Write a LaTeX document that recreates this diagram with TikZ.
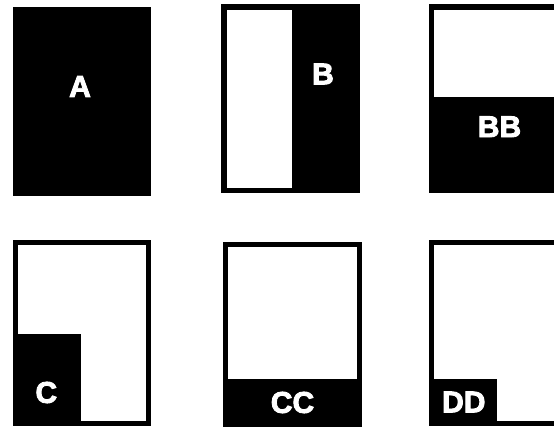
\documentclass[tikz,border=0pt]{standalone}
\usepackage{fontspec}
\setmainfont{Liberation Sans}
\newfontfamily\lblfont[BoldFeatures={FakeBold=3}]{Liberation Sans}
\usetikzlibrary{positioning}
\tikzstyle{frame}=[draw=black,line width=5pt,fill=white]
\tikzstyle{solid block}=[fill=black]
\tikzstyle{lbl}=[text=white,font=\lblfont\fontsize{30}{30}\selectfont\bfseries,inner sep=0pt]

\begin{document}
\begin{tikzpicture}[x=1pt,y=-1pt]
\useasboundingbox (0,0) rectangle (554,427);
\clip (0,0) rectangle (554,427);
% top row
\fill[solid block] (12.5,7) rectangle (151,196);
\node[lbl] (A) at (80,86.5) {A};
\fill[solid block] (221,4.5) rectangle (359.5,193.5);
\fill[white] (226.5,10) rectangle (292,188);
\node[lbl] (B) at (323,74) {B};
\fill[solid block] (428.5,4.5) rectangle (567,193.5);
\fill[white] (434,10) rectangle (561.5,97);
\node[lbl] (BB) at (499.5,126.7) {BB};
% bottom row
\draw[frame] (15,243) rectangle (148.5,423);
\fill[solid block] (12.5,334) rectangle (81,425.5);
\node[lbl] (C) at (46.3,392.5) {C};
\draw[frame] (225.8,244.8) rectangle (359.2,432);
\fill[solid block] (223.3,379.3) rectangle (361.7,432);
\node[lbl] (CC) at (292.5,402.5) {CC};
\draw[frame] (431.2,242.5) rectangle (563.5,423);
\fill[solid block] (428.7,379) rectangle (497.3,425.5);
\node[lbl] (DD) at (463.8,402) {DD};
\end{tikzpicture}
\end{document}
